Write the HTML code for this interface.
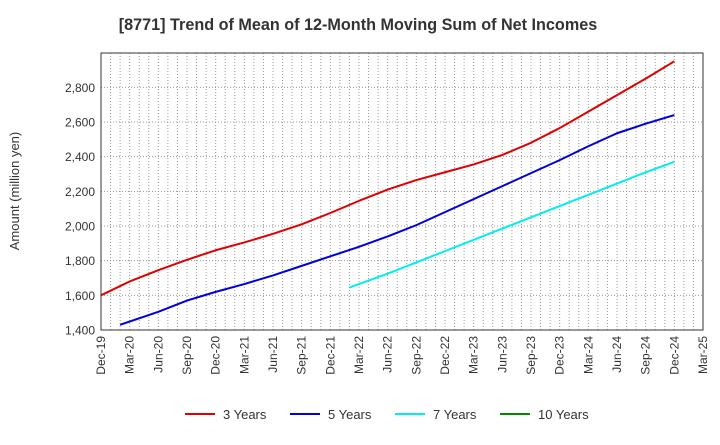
<!DOCTYPE html>
<html><head><meta charset="utf-8"><style>
body{margin:0;background:#fff;font-family:"Liberation Sans",sans-serif}
svg text{font-family:"Liberation Sans",sans-serif}
</style></head><body>
<svg id="c" width="720" height="440">
<text x="358" y="30" text-anchor="middle" font-size="16.2" font-weight="bold" fill="#333">[8771]  Trend of Mean of 12-Month Moving Sum of Net Incomes</text>
<text transform="translate(19,191) rotate(-90)" text-anchor="middle" font-size="13" fill="#333">Amount (million yen)</text>
<g id="grid"></g><g id="series"></g><g id="axes"></g>
</svg>
<script>
const xLabels=["Dec-19","Mar-20","Jun-20","Sep-20","Dec-20","Mar-21","Jun-21","Sep-21","Dec-21","Mar-22","Jun-22","Sep-22","Dec-22","Mar-23","Jun-23","Sep-23","Dec-23","Mar-24","Jun-24","Sep-24","Dec-24","Mar-25"];
const yTicks=[1400,1600,1800,2000,2200,2400,2600,2800];
const seriesNames=["3 Years","5 Years","7 Years","10 Years"];
const seriesColors=["#e00000","#0000dd","#00eeee","#008800"];
const m3=[0,3,6,9,12,15,18,21,24,27,30,33,36,39,42,45,48,51,54,57,60];
const v3=[1600,1680,1745,1805,1860,1905,1955,2010,2075,2145,2210,2265,2310,2355,2410,2480,2565,2660,2755,2850,2950];
const m5=[2,6,9,12,15,18,21,24,27,30,33,36,39,42,45,48,51,54,57,60];
const v5=[1430,1505,1570,1620,1665,1715,1770,1825,1880,1940,2005,2080,2155,2230,2305,2380,2460,2535,2590,2640];
const m7=[26,27,30,33,36,39,42,45,48,51,54,57,60];
const v7=[1645,1665,1725,1790,1855,1920,1985,2050,2115,2180,2245,2310,2370];
const m10=[];const v10=[];
const L=101,R=703,T=53,B=330,NM=63,Y0=1400,Y1=2998;
const X=m=>L+m*(R-L)/NM, Y=v=>B-(v-Y0)*(B-T)/(Y1-Y0);
const NS="http://www.w3.org/2000/svg";
function mk(t,a,p){const e=document.createElementNS(NS,t);for(const k in a)e.setAttribute(k,a[k]);p.appendChild(e);return e;}
const g=document.getElementById('grid'),s=document.getElementById('series'),ax=document.getElementById('axes');
for(let m=1;m<NM;m++){const l=mk('line',{x1:X(m),x2:X(m),y1:T,y2:B,stroke:'#999','stroke-dasharray':'1,2','stroke-width':1},g);

}
yTicks.forEach(v=>{if(v>Y0){const l=mk('line',{x1:L,x2:R,y1:Y(v),y2:Y(v),stroke:'#999','stroke-dasharray':'1,2'},g);

}
const t=mk('text',{x:L-6,y:Y(v)+4.5,'text-anchor':'end','font-size':12,fill:'#333'},ax);t.textContent=v.toLocaleString('en-US');

});
xLabels.forEach((lb,i)=>{const x=X(i*3);const t=mk('text',{transform:`translate(${x+4},${B+6}) rotate(-90)`,'text-anchor':'end','font-size':12,fill:'#333'},ax);t.textContent=lb;

});
const fr=mk('rect',{x:L,y:T,width:R-L,height:B-T,fill:'none',stroke:'#333','stroke-width':1},ax);


[[m3,v3],[m5,v5],[m7,v7],[m10,v10]].forEach(([ms,vs],i)=>{if(!ms.length)return;
const p=mk('polyline',{points:ms.map((m,j)=>X(m)+','+Y(vs[j])).join(' '),fill:'none',stroke:seriesColors[i],'stroke-width':2,'stroke-linejoin':'round'},s);

});
const lx=[185,290,395,500];
seriesNames.forEach((n,i)=>{const gg=mk('g',{},ax);


mk('line',{x1:lx[i],x2:lx[i]+30,y1:414,y2:414,stroke:seriesColors[i],'stroke-width':2},gg);
const t=mk('text',{x:lx[i]+38,y:419,'font-size':13,fill:'#333'},gg);t.textContent=n;});
</script>
</body></html>
